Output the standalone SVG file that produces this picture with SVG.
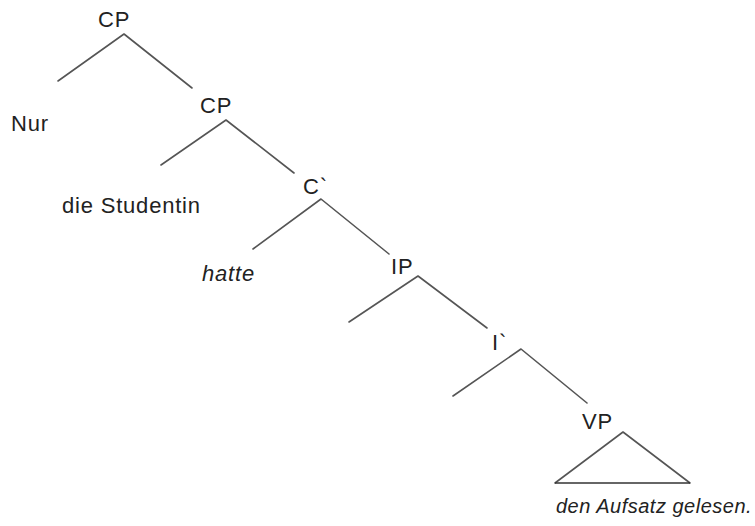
<svg xmlns="http://www.w3.org/2000/svg" width="755" height="526" viewBox="0 0 755 526">
  <style>
    .lbl { font-family: "Liberation Sans", Arial, sans-serif; font-size: 22px; letter-spacing: 0.8px; fill: #222; }
    .it { font-style: italic; }
    .small { font-size: 20px; letter-spacing: 0.5px; }
    .edge { stroke: #555; stroke-width: 1.6; fill: none; stroke-linecap: round; stroke-linejoin: round; }
    .base { stroke: #333; stroke-width: 1.6; fill: none; }
  </style>
  <rect width="755" height="526" fill="#fff"/>

  <!-- branches of the tree; the VP roof is a closed triangle -->
  <g id="connectors">
    <polyline class="edge" points="58,81 124,34 192,88"/>
    <polyline class="edge" points="161,165 226,120 294,173"/>
    <polyline class="edge" points="253,249 321,199 389,254"/>
    <polyline class="edge" points="349,322 418,276 487,328"/>
    <polyline class="edge" points="453,396 521,349 587,403"/>
    <polyline class="edge" points="555,483 623,432 690,483"/>
    <line class="base" x1="555" y1="483" x2="690" y2="483"/>
  </g>

  <g id="cp-top"><text class="lbl" x="98" y="27">CP</text></g>
  <g id="nur"><text class="lbl" x="11" y="131">Nur</text></g>
  <g id="cp-spec"><text class="lbl" x="200" y="113">CP</text></g>
  <g id="die-studentin"><text class="lbl" x="62" y="213">die Studentin</text></g>
  <g id="c-bar"><text class="lbl" x="303" y="194">C`</text></g>
  <g id="hatte"><text class="lbl it" x="202" y="281">hatte</text></g>
  <g id="ip"><text class="lbl" x="391" y="274">IP</text></g>
  <g id="i-bar"><text class="lbl" x="492" y="350">I`</text></g>
  <g id="vp"><text class="lbl" x="582" y="429">VP</text></g>
  <g id="vp-content"><text class="lbl it small" x="556" y="513">den Aufsatz gelesen.</text></g>
</svg>
